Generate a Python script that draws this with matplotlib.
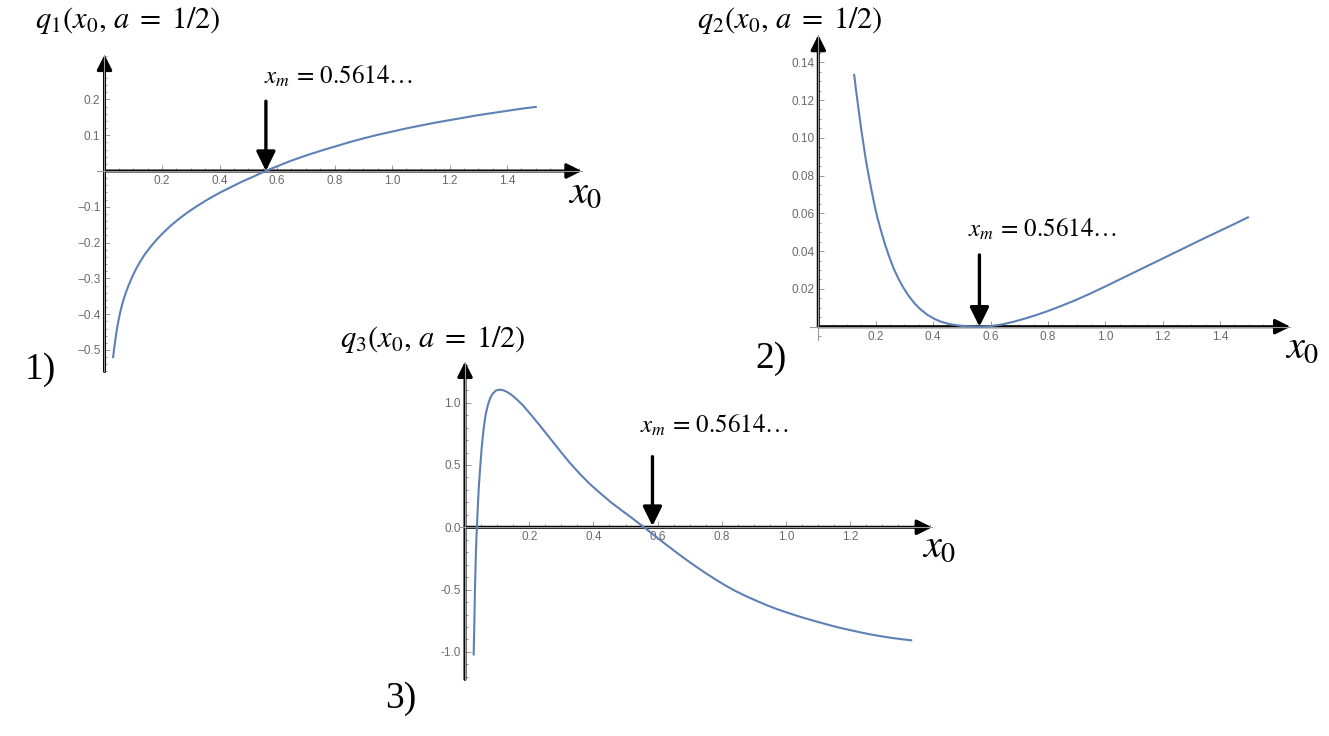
import numpy as np
import matplotlib
matplotlib.use('Agg')
import matplotlib.pyplot as plt
from matplotlib.ticker import FixedLocator, MultipleLocator, FixedFormatter

plt.rcParams['mathtext.fontset'] = 'stix'
plt.rcParams['font.family'] = 'Liberation Sans'

# ---- data ----
x1 = [0.030, 0.033, 0.037, 0.042, 0.048, 0.055, 0.063, 0.072, 0.082, 0.095, 0.11, 0.125,
      0.14, 0.16, 0.18, 0.20, 0.23, 0.26, 0.29, 0.32, 0.36, 0.40, 0.44, 0.48, 0.52, 0.56,
      0.60, 0.65, 0.70, 0.75, 0.80, 0.85, 0.90, 0.95, 1.00, 1.05, 1.10, 1.15, 1.20, 1.25,
      1.30, 1.35, 1.40, 1.45, 1.50]
q1 = [-0.520, -0.500, -0.475, -0.448, -0.420, -0.393, -0.368, -0.345, -0.323, -0.298, -0.273, -0.252,
      -0.233, -0.212, -0.193, -0.176, -0.153, -0.133, -0.115, -0.099, -0.079, -0.061, -0.045, -0.029, -0.015, 0.0,
      0.013, 0.029, 0.043, 0.056, 0.068, 0.080, 0.091, 0.101, 0.110, 0.119, 0.127, 0.135, 0.142, 0.149,
      0.156, 0.162, 0.168, 0.174, 0.179]

x2 = [0.125, 0.130, 0.136, 0.143, 0.150, 0.158, 0.166, 0.175, 0.185, 0.195, 0.205, 0.218,
      0.232, 0.246, 0.262, 0.278, 0.295, 0.315, 0.335, 0.355, 0.38, 0.405, 0.43, 0.46,
      0.49, 0.52, 0.56, 0.60, 0.64, 0.68, 0.72, 0.76, 0.80, 0.85, 0.90, 0.95, 1.00,
      1.05, 1.10, 1.15, 1.20, 1.25, 1.30, 1.35, 1.40, 1.45, 1.497]
q2 = [0.1333, 0.127, 0.120, 0.112, 0.104, 0.096, 0.088, 0.0805, 0.0725, 0.065, 0.0583, 0.051,
      0.0438, 0.0375, 0.031, 0.0258, 0.021, 0.0163, 0.0124, 0.0093, 0.0063, 0.0041, 0.0025, 0.0013,
      0.0006, 0.0002, 0.0, 0.0003, 0.0012, 0.0026, 0.0043, 0.0062, 0.0083, 0.0112, 0.0143, 0.0177, 0.0213,
      0.025, 0.0287, 0.0324, 0.0361, 0.0398, 0.0435, 0.0472, 0.0508, 0.0544, 0.0579]

x3 = [0.027, 0.028, 0.029, 0.030, 0.031, 0.0325, 0.034, 0.0355, 0.037, 0.040, 0.043, 0.047,
      0.052, 0.058, 0.064, 0.071, 0.079, 0.087, 0.096, 0.107, 0.118, 0.13, 0.145, 0.16,
      0.18, 0.20, 0.229, 0.26, 0.294, 0.325, 0.358, 0.39, 0.423, 0.455, 0.487, 0.52,
      0.55, 0.58, 0.616, 0.65, 0.68, 0.71, 0.745, 0.78, 0.81, 0.84, 0.874, 0.91,
      0.94, 0.97, 1.003, 1.04, 1.07, 1.10, 1.131, 1.165, 1.20, 1.23, 1.26, 1.295,
      1.33, 1.36, 1.39]
q3 = [-1.02, -0.90, -0.78, -0.64, -0.50, -0.35, -0.20, -0.09, 0.0, 0.17, 0.32, 0.47,
      0.64, 0.79, 0.90, 0.98, 1.04, 1.075, 1.097, 1.105, 1.101, 1.088, 1.063, 1.03,
      0.98, 0.92, 0.83, 0.73, 0.62, 0.522, 0.428, 0.345, 0.27, 0.20, 0.138, 0.075,
      0.015, -0.045, -0.118, -0.185, -0.243, -0.298, -0.36, -0.418, -0.465, -0.508, -0.551, -0.592,
      -0.625, -0.655, -0.684, -0.715, -0.738, -0.76, -0.782, -0.805, -0.825, -0.842, -0.858, -0.874,
      -0.888, -0.898, -0.907]

xm = 0.5614
xticks12 = [0.2, 0.4, 0.6, 0.8, 1.0, 1.2, 1.4]
xlabels12 = ['0.2', '0.4', '0.6', '0.8', '1.0', '1.2', '1.4']
yticks1 = [-0.5, -0.4, -0.3, -0.2, -0.1, 0.1, 0.2]
ylabels1 = ['\u22120.5', '\u22120.4', '\u22120.3', '\u22120.2', '\u22120.1', '0.1', '0.2']
yticks2 = [0.02, 0.04, 0.06, 0.08, 0.10, 0.12, 0.14]
ylabels2 = ['0.02', '0.04', '0.06', '0.08', '0.10', '0.12', '0.14']
xticks3 = [0.2, 0.4, 0.6, 0.8, 1.0, 1.2]
xlabels3 = ['0.2', '0.4', '0.6', '0.8', '1.0', '1.2']
yticks3 = [-1.0, -0.5, 0.0, 0.5, 1.0]
ylabels3 = ['-1.0', '-0.5', '0.0', '0.5', '1.0']

W, H = 1329, 736
fig = plt.figure(figsize=(W / 100, H / 100), dpi=100)
blue = '#5e81b5'
grey = '#9a9a9a'


def make_ax(ox, oy, sx, sy, xlim, ylim):
    # ox, oy: pixel of data origin (from top-left); sx, sy: pixels per unit
    left = ox + xlim[0] * sx
    right = ox + xlim[1] * sx
    top = oy - ylim[1] * sy
    bottom = oy - ylim[0] * sy
    ax = fig.add_axes([left / W, 1 - bottom / H, (right - left) / W, (bottom - top) / H])
    ax.set_xlim(xlim)
    ax.set_ylim(ylim)
    ax.patch.set_alpha(0)
    for s in ['top', 'right']:
        ax.spines[s].set_visible(False)
    for s in ['left', 'bottom']:
        ax.spines[s].set_position(('data', 0))
        ax.spines[s].set_color(grey)
        ax.spines[s].set_linewidth(0.8)
    ax.tick_params(which='both', direction='in', color=grey, labelcolor='#6a6a6a',
                   labelsize=8.5, width=0.7, pad=3)
    ax.tick_params(which='major', length=4)
    ax.tick_params(which='minor', length=2)
    return ax


def axis_arrows(ax, xa, xb, ya, yb):
    st = '-|>,head_length=0.5,head_width=0.25'
    ax.annotate('', xy=(xb, 0), xytext=(xa, 0), annotation_clip=False, zorder=2,
                arrowprops=dict(arrowstyle=st, lw=2.2, color='k', shrinkA=0, shrinkB=0,
                                mutation_scale=18))
    ax.annotate('', xy=(0, yb), xytext=(0, ya), annotation_clip=False, zorder=2,
                arrowprops=dict(arrowstyle=st, lw=2.2, color='k', shrinkA=0, shrinkB=0,
                                mutation_scale=18))


def xm_arrow(ax, x, ytop, ytip, tx, ty):
    ax.annotate('', xy=(x, ytip), xytext=(x, ytop), annotation_clip=False, zorder=4,
                arrowprops=dict(arrowstyle='-|>,head_length=0.65,head_width=0.32', lw=2.4,
                                color='k', shrinkA=0, shrinkB=0, mutation_scale=18))
    ax.text(tx, ty, r'$x_m\,=\,0.5614\ldots$', fontsize=18, ha='left', va='baseline')


def set_ticks(ax, xt, xl, yt, yl, xminor, yminor):
    ax.xaxis.set_major_locator(FixedLocator(xt))
    ax.xaxis.set_major_formatter(FixedFormatter(xl))
    ax.yaxis.set_major_locator(FixedLocator(yt))
    ax.yaxis.set_major_formatter(FixedFormatter(yl))
    ax.xaxis.set_minor_locator(MultipleLocator(xminor))
    ax.yaxis.set_minor_locator(MultipleLocator(yminor))


def ftext(px, py, s, size):
    fig.text(px / W, 1 - py / H, s, fontsize=size, ha='left', va='baseline',
             family='Liberation Serif')


# ---- panel 1 ----
ax1 = make_ax(104.5, 171, 287.5, 358, (-0.025, 1.66), (-0.56, 0.325))
set_ticks(ax1, xticks12, xlabels12, yticks1, ylabels1, 0.05, 0.02)
ax1.plot(x1, q1, color=blue, lw=1.5, zorder=3)
axis_arrows(ax1, 0, 1.66, -0.56, 0.325)
xm_arrow(ax1, xm, 0.195, 0.0, 0.555, 0.243)

# ---- panel 2 ----
ax2 = make_ax(818.3, 326.7, 287, 1889, (-0.03, 1.645), (-0.007, 0.1545))
set_ticks(ax2, xticks12, xlabels12, yticks2, ylabels2, 0.05, 0.005)
ax2.plot(x2, q2, color=blue, lw=1.5, zorder=3)
axis_arrows(ax2, 0, 1.645, 0, 0.1545)
xm_arrow(ax2, xm, 0.038, 0.0, 0.52, 0.0475)

# ---- panel 3 ----
ax3 = make_ax(465, 527.3, 321, 124.6, (-0.02, 1.455), (-1.22, 1.33))
set_ticks(ax3, xticks3, xlabels3, yticks3, ylabels3, 0.05, 0.1)
ax3.plot(x3, q3, color=blue, lw=1.5, zorder=3)
axis_arrows(ax3, 0, 1.455, -1.22, 1.33)
xm_arrow(ax3, 0.584, 0.567, 0.01, 0.545, 0.757)

# ---- titles, axis names, panel numbers ----
title = r'$q_{%d}(x_0,\, a\;=\;1/2)$'
fig.text(35 / W, 1 - 28 / H, title % 1, fontsize=22, ha='left', va='baseline')
fig.text(697 / W, 1 - 28 / H, title % 2, fontsize=22, ha='left', va='baseline')
fig.text(340 / W, 1 - 347 / H, title % 3, fontsize=22, ha='left', va='baseline')

fig.text(568 / W, 1 - 203 / H, r'$x_0$', fontsize=29, ha='left', va='baseline')
fig.text(1285 / W, 1 - 358 / H, r'$x_0$', fontsize=29, ha='left', va='baseline')
fig.text(922 / W, 1 - 557 / H, r'$x_0$', fontsize=29, ha='left', va='baseline')

ftext(25, 379, '1)', 27)
ftext(755, 368, '2)', 27)
ftext(385, 708, '3)', 27)

fig.savefig('out.png', dpi=100)
